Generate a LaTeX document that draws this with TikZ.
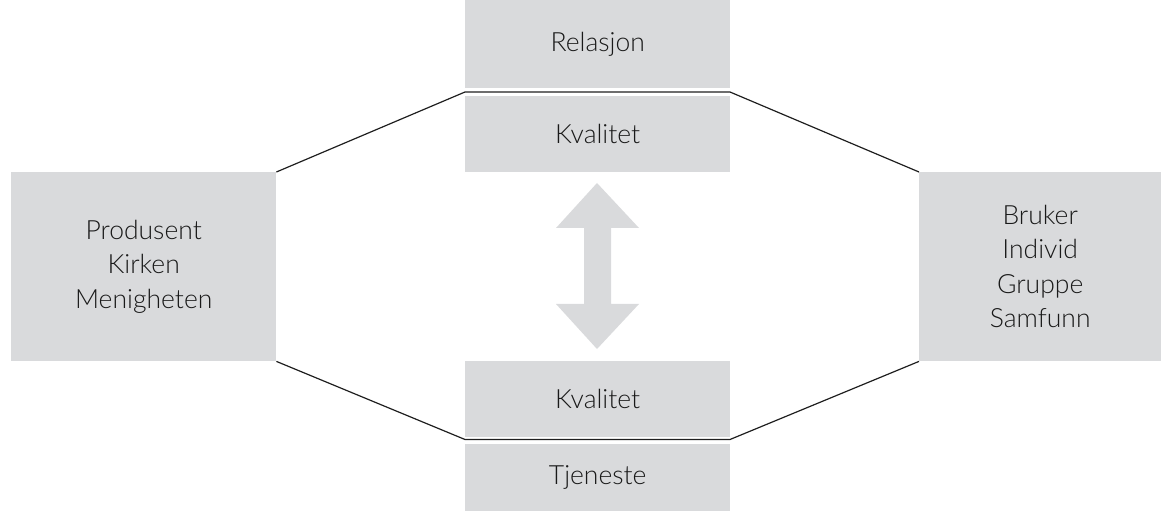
\documentclass[tikz,border=0pt]{standalone}
\usepackage{fontspec}
\setmainfont{Lato}[UprightFont=* Light]
\definecolor{boxgray}{HTML}{D9DADC}
\definecolor{linegray}{HTML}{1E1E1E}
\tikzset{
  box/.style={fill=boxgray, draw=none, anchor=north west, inner sep=0pt,
              align=center, font=\fontsize{26.5}{34.5}\selectfont, text=black!90},
  link/.style={draw=linegray, line width=1.2pt},
}
\begin{document}
\begin{tikzpicture}[x=1pt, y=-1pt]
  \useasboundingbox (0,0) rectangle (1171,513);

  % central column
  \node[box, minimum width=265pt, minimum height=88pt] (rel) at (465,0) {Relasjon};
  \node[box, minimum width=265pt, minimum height=76pt] (kvtop) at (465,96) {Kvalitet};
  \node[box, minimum width=265pt, minimum height=76pt] (kvbot) at (465,361) {Kvalitet};
  \node[box, minimum width=265pt, minimum height=67pt] (tje) at (465,444) {Tjeneste};

  % side boxes
  \node[box, minimum width=265pt, minimum height=189pt] (prod) at (11,172)
    {Produsent\\Kirken\\Menigheten};
  \node[box, minimum width=242pt, minimum height=189pt] (bruk) at (919,172)
    {Bruker\\Individ\\Gruppe\\Samfunn};

  % junction points of the outline
  \coordinate (tl) at (465,92);
  \coordinate (tr) at (730,92);
  \coordinate (bl) at (465,439.5);
  \coordinate (br) at (730,439.5);

  \draw[link] (prod.north east) -- (tl) -- (tr) -- (bruk.north west);
  \draw[link] (prod.south east) -- (bl) -- (br) -- (bruk.south west);

  % double-headed block arrow
  \fill[boxgray] (597,183) -- (639,228) -- (611,228) -- (611,304) -- (639,304)
    -- (597,349) -- (556,304) -- (584,304) -- (584,228) -- (556,228) -- cycle;
\end{tikzpicture}
\end{document}
